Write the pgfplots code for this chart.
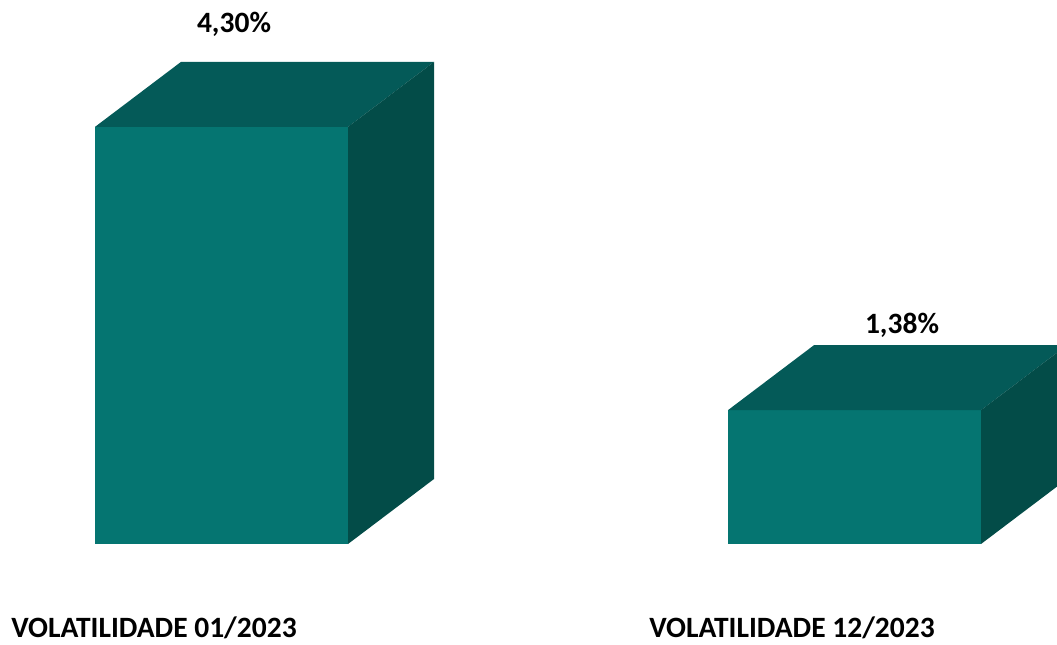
\documentclass[border=0pt]{standalone}
\usepackage{fontspec}
\setmainfont{Carlito}
\usepackage{pgfplots}
\pgfplotsset{compat=1.18}
\definecolor{frontc}{RGB}{5,117,113}
\definecolor{topc}{RGB}{4,90,88}
\definecolor{sidec}{RGB}{3,76,72}
\begin{document}
\begin{tikzpicture}
\begin{axis}[
  scale only axis, width=528.5pt, height=322.5pt,
  xmin=0, xmax=1057, ymin=-1.0412, ymax=5.6082,
  axis lines=none, xtick=\empty, ytick=\empty,
  clip=true, clip mode=individual,
]
% front faces (values 4.30 and 1.38)
\addplot[ybar, bar width=126.5pt, fill=frontc, draw=none] coordinates {(221.5,4.30) (854.5,1.38)};
% top faces (depth offset: dx=86, dy=0.67)
\addplot[fill=topc, draw=none] coordinates {(95,4.30) (348,4.30) (434,4.97) (181,4.97)} -- cycle;
\addplot[fill=topc, draw=none] coordinates {(728,1.38) (981,1.38) (1067,2.05) (814,2.05)} -- cycle;
% side faces
\addplot[fill=sidec, draw=none] coordinates {(348,0) (434,0.67) (434,4.97) (348,4.30)} -- cycle;
\addplot[fill=sidec, draw=none] coordinates {(981,0) (1067,0.67) (1067,2.05) (981,1.38)} -- cycle;
% labels
\node[anchor=base, font=\fontsize{14.75}{17}\selectfont\bfseries] at (axis cs:234,5.278) {4,30\%};
\node[anchor=base, font=\fontsize{14.75}{17}\selectfont\bfseries] at (axis cs:902,2.175) {1,38\%};
\node[anchor=base, font=\fontsize{14.75}{17}\selectfont\bfseries] at (axis cs:154,-0.965) {VOLATILIDADE 01/2023};
\node[anchor=base, font=\fontsize{14.75}{17}\selectfont\bfseries] at (axis cs:792,-0.965) {VOLATILIDADE 12/2023};
\end{axis}
\pgfresetboundingbox
\path[use as bounding box] (current axis.south west) rectangle (current axis.north east);
\end{tikzpicture}
\end{document}
